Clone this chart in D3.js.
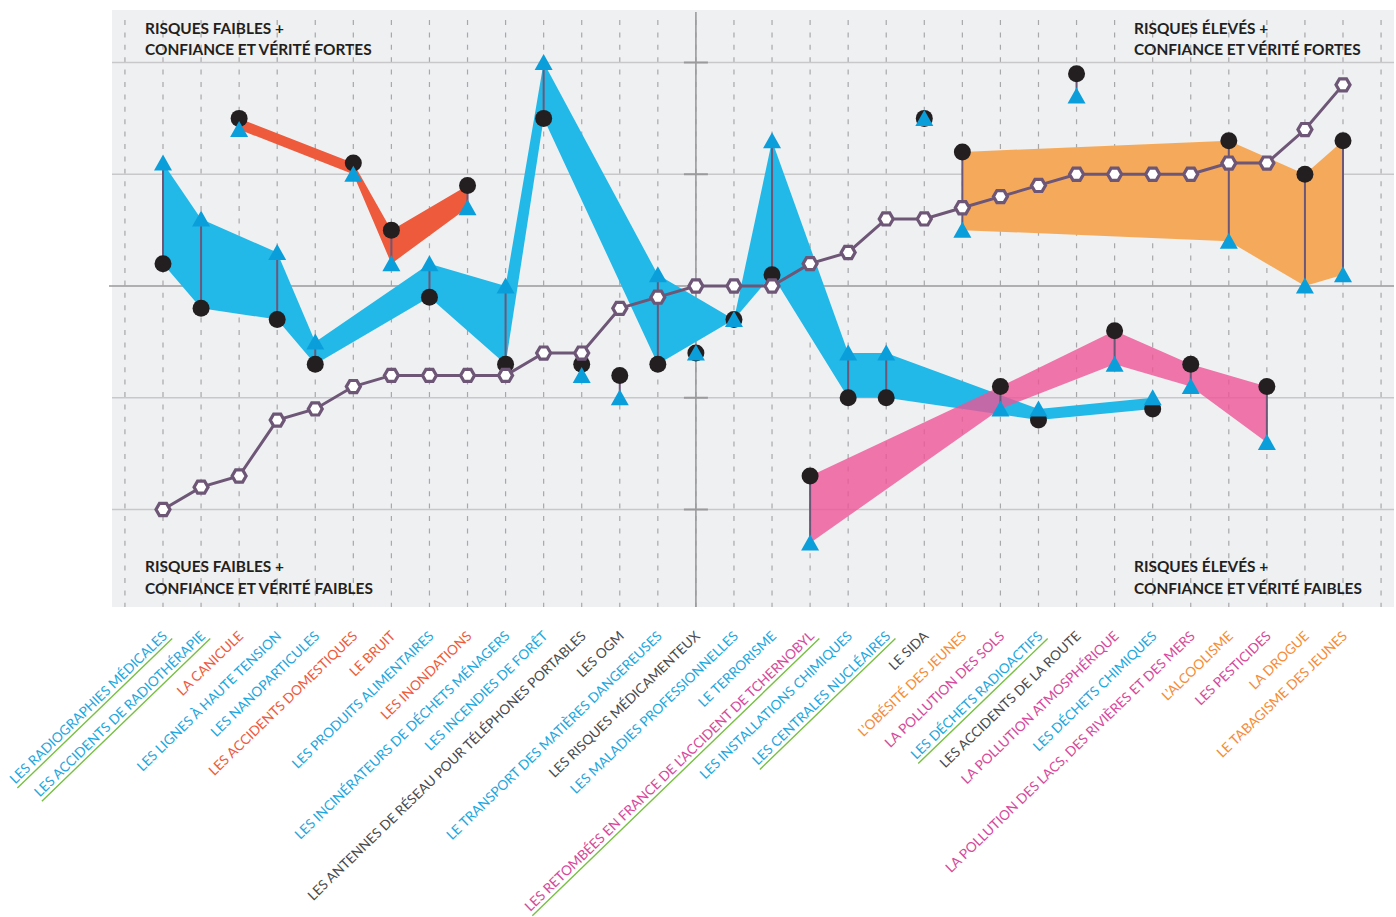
<!DOCTYPE html>
<html>
<head>
<meta charset="utf-8">
<script src="https://cdn.jsdelivr.net/npm/d3@7"></script>
<style>
  html, body { margin: 0; padding: 0; background: #ffffff; }
  svg { display: block; }
  text { font-family: Lato, "Noto Sans", sans-serif; }
</style>
</head>
<body>
<svg id="chart" width="1396" height="917"></svg>
<script>
// ---------- DATA ----------
const categories = [
  "LES RADIOGRAPHIES MÉDICALES",
  "LES ACCIDENTS DE RADIOTHÉRAPIE",
  "LA CANICULE",
  "LES LIGNES À HAUTE TENSION",
  "LES NANOPARTICULES",
  "LES ACCIDENTS DOMESTIQUES",
  "LE BRUIT",
  "LES PRODUITS ALIMENTAIRES",
  "LES INONDATIONS",
  "LES INCINÉRATEURS DE DÉCHETS MÉNAGERS",
  "LES INCENDIES DE FORÊT",
  "LES ANTENNES DE RÉSEAU POUR TÉLÉPHONES PORTABLES",
  "LES OGM",
  "LE TRANSPORT DES MATIÈRES DANGEREUSES",
  "LES RISQUES MÉDICAMENTEUX",
  "LES MALADIES PROFESSIONNELLES",
  "LE TERRORISME",
  "LES RETOMBÉES EN FRANCE DE L’ACCIDENT DE TCHERNOBYL",
  "LES INSTALLATIONS CHIMIQUES",
  "LES CENTRALES NUCLÉAIRES",
  "LE SIDA",
  "L’OBÉSITÉ DES JEUNES",
  "LA POLLUTION DES SOLS",
  "LES DÉCHETS RADIOACTIFS",
  "LES ACCIDENTS DE LA ROUTE",
  "LA POLLUTION ATMOSPHÉRIQUE",
  "LES DÉCHETS CHIMIQUES",
  "LA POLLUTION DES LACS, DES RIVIÈRES ET DES MERS",
  "L’ALCOOLISME",
  "LES PESTICIDES",
  "LA DROGUE",
  "LE TABAGISME DES JEUNES"
];

const groups = [
  "bleu","bleu","rouge","bleu","bleu","rouge","rouge","bleu","rouge","bleu",
  "bleu","gris","gris","bleu","gris","bleu","bleu","rose","bleu","bleu",
  "gris","orange","rose","bleu","gris","rose","bleu","rose","orange","rose",
  "orange","orange"
];

// categories underlined in green (nuclear-related)
const nucleaire = [
  "LES RADIOGRAPHIES MÉDICALES",
  "LES ACCIDENTS DE RADIOTHÉRAPIE",
  "LES RETOMBÉES EN FRANCE DE L’ACCIDENT DE TCHERNOBYL",
  "LES CENTRALES NUCLÉAIRES",
  "LES DÉCHETS RADIOACTIFS"
];

// black circles
const confiance = [
  0.2, -0.2, 1.5, -0.3, -0.7, 1.1, 0.5, -0.1, 0.9, -0.7,
  1.5, -0.7, -0.8, -0.7, -0.6, -0.3, 0.1, -1.7, -1.0, -1.0,
  1.5, 1.2, -0.9, -1.2, 1.9, -0.4, -1.1, -0.7, 1.3, -0.9,
  1.0, 1.3
];

// blue triangles
const verite = [
  1.1, 0.6, 1.4, 0.3, -0.5, 1.0, 0.2, 0.2, 0.7, 0.0,
  2.0, -0.8, -1.0, 0.1, -0.6, -0.3, 1.3, -2.3, -0.6, -0.6,
  1.5, 0.5, -1.1, -1.1, 1.7, -0.7, -1.0, -0.9, 0.4, -1.4,
  0.0, 0.1
];

// purple hexagon line
const risque = [
  -2.0, -1.8, -1.7, -1.2, -1.1, -0.9, -0.8, -0.8, -0.8, -0.8,
  -0.6, -0.6, -0.2, -0.1, 0.0, 0.0, 0.0, 0.2, 0.3, 0.6,
  0.6, 0.7, 0.8, 0.9, 1.0, 1.0, 1.0, 1.0, 1.1, 1.1,
  1.4, 1.8
];

const yTicks = [-2, -1, 0, 1, 2];

const quadrants = [
  { lines: ["RISQUES FAIBLES +", "CONFIANCE ET VÉRITÉ FORTES"], side: "left", pos: "top" },
  { lines: ["RISQUES ÉLEVÉS +", "CONFIANCE ET VÉRITÉ FORTES"], side: "right", pos: "top" },
  { lines: ["RISQUES FAIBLES +", "CONFIANCE ET VÉRITÉ FAIBLES"], side: "left", pos: "bottom" },
  { lines: ["RISQUES ÉLEVÉS +", "CONFIANCE ET VÉRITÉ FAIBLES"], side: "right", pos: "bottom" }
];

// ---------- STYLE ----------
const bandColor = { bleu: "#22b9e8", rouge: "#ee5a3c", rose: "#ed5596", orange: "#f5aa5b" };
const bandOpacity = { bleu: 1, rouge: 1, rose: 0.8, orange: 1 };
const labelColor = { bleu: "#1ea7de", rouge: "#ef5a3d", rose: "#d7499b", orange: "#f68c36", gris: "#4b4b4d" };
const triColor = "#0a9fda";
const dotColor = "#231f20";
const purple = "#6e5677";
const green = "#78c043";

// ---------- LAYOUT ----------
const svg = d3.select("#chart");
const plot = { x0: 112, x1: 1394, y0: 10, y1: 607 };

const x = d3.scalePoint().domain(categories).range([163, 1343]);
const y = d3.scaleLinear().domain([-2, 2]).range([509.5, 62.5]);
const step = x.step();

const rows = categories.map((c, i) => ({
  cat: c, i, g: groups[i], c: confiance[i], t: verite[i], r: risque[i]
}));

// background
svg.append("rect")
  .attr("x", plot.x0).attr("y", plot.y0)
  .attr("width", plot.x1 - plot.x0).attr("height", plot.y1 - plot.y0)
  .attr("fill", "#eff0f2");

// dashed verticals
const dashX = [x(categories[0]) - step, ...categories.map(c => x(c)), x(categories[categories.length - 1]) + step];
svg.append("g").selectAll("line").data(dashX).join("line")
  .attr("x1", d => d).attr("x2", d => d)
  .attr("y1", 20).attr("y2", plot.y1)
  .attr("stroke", "#a8a8ab").attr("stroke-width", 1.2)
  .attr("stroke-dasharray", "5 7.4");

// horizontal grid
svg.append("g").selectAll("line").data(yTicks.filter(v => v !== 0)).join("line")
  .attr("x1", plot.x0).attr("x2", plot.x1)
  .attr("y1", d => y(d)).attr("y2", d => y(d))
  .attr("stroke", "#c8c8cb").attr("stroke-width", 1.6);

// central axes
const midX = x(categories[14]);
svg.append("line")
  .attr("x1", plot.x0 - 3).attr("x2", plot.x1)
  .attr("y1", y(0)).attr("y2", y(0))
  .attr("stroke", "#9a9a9d").attr("stroke-width", 1.6);
svg.append("line")
  .attr("x1", midX).attr("x2", midX)
  .attr("y1", plot.y0 + 2).attr("y2", plot.y1)
  .attr("stroke", "#9a9a9d").attr("stroke-width", 1.6);
svg.append("g").selectAll("line").data(yTicks.filter(v => v !== 0)).join("line")
  .attr("x1", midX - 12).attr("x2", midX + 12)
  .attr("y1", d => y(d)).attr("y2", d => y(d))
  .attr("stroke", "#9a9a9d").attr("stroke-width", 2);

// bands
const area = d3.area()
  .x(d => x(d.cat))
  .y0(d => y(d.c))
  .y1(d => y(d.t))
  .curve(d3.curveLinear);

["bleu", "rouge", "orange", "rose"].forEach(g => {
  const pts = rows.filter(r => r.g === g);
  svg.append("path")
    .datum(pts)
    .attr("d", area)
    .attr("fill", bandColor[g])
    .attr("fill-opacity", bandOpacity[g]);
});

// stems
svg.append("g").selectAll("line").data(rows).join("line")
  .attr("x1", d => x(d.cat)).attr("x2", d => x(d.cat))
  .attr("y1", d => y(d.c)).attr("y2", d => y(d.t))
  .attr("stroke", purple).attr("stroke-width", 2);

// circles
svg.append("g").selectAll("circle").data(rows).join("circle")
  .attr("cx", d => x(d.cat)).attr("cy", d => y(d.c))
  .attr("r", 8.5).attr("fill", dotColor);

// purple line with hexagons
const line = d3.line().x(d => x(d.cat)).y(d => y(d.r));
svg.append("path").datum(rows)
  .attr("d", line).attr("fill", "none")
  .attr("stroke", purple).attr("stroke-width", 3);

const hexR = 7;
const hexPath = d3.range(6).map(k => {
  const a = k * Math.PI / 3;
  return [hexR * Math.cos(a), hexR * Math.sin(a)];
});
const hexD = "M" + hexPath.map(p => p.join(",")).join("L") + "Z";
svg.append("g").selectAll("path").data(rows).join("path")
  .attr("transform", d => `translate(${x(d.cat)},${y(d.r)})`)
  .attr("d", hexD)
  .attr("fill", "#ffffff").attr("stroke", purple).attr("stroke-width", 3.2);

// triangles
const triD = "M0,-8.5L9,7.5L-9,7.5Z";
svg.append("g").selectAll("path").data(rows).join("path")
  .attr("transform", d => `translate(${x(d.cat)},${y(d.t)})`)
  .attr("d", triD)
  .attr("fill", triColor);

// quadrant labels
quadrants.forEach(q => {
  const tx = q.side === "left" ? 145 : 1134;
  const by = q.pos === "top" ? [34, 55] : [572, 594];
  q.lines.forEach((l, k) => {
    svg.append("text")
      .attr("x", tx).attr("y", by[k])
      .attr("font-size", 15.4).attr("font-weight", 700)
      .attr("fill", "#231f20")
      .text(l);
  });
});

// category labels
const lab = svg.append("g").selectAll("g").data(rows).join("g")
  .attr("transform", d => `translate(${x(d.cat) + 5},637) rotate(-44)`);
lab.append("text")
  .attr("text-anchor", "end")
  .attr("font-size", 13.6)
  .attr("fill", d => labelColor[d.g])
  .text(d => d.cat);
lab.filter(d => nucleaire.includes(d.cat)).each(function () {
  const g = d3.select(this);
  const len = g.select("text").node().getComputedTextLength();
  g.append("line")
    .attr("x1", -len - 1).attr("x2", 2)
    .attr("y1", 4).attr("y2", 4)
    .attr("stroke", green).attr("stroke-width", 1.4);
});
</script>
</body>
</html>
